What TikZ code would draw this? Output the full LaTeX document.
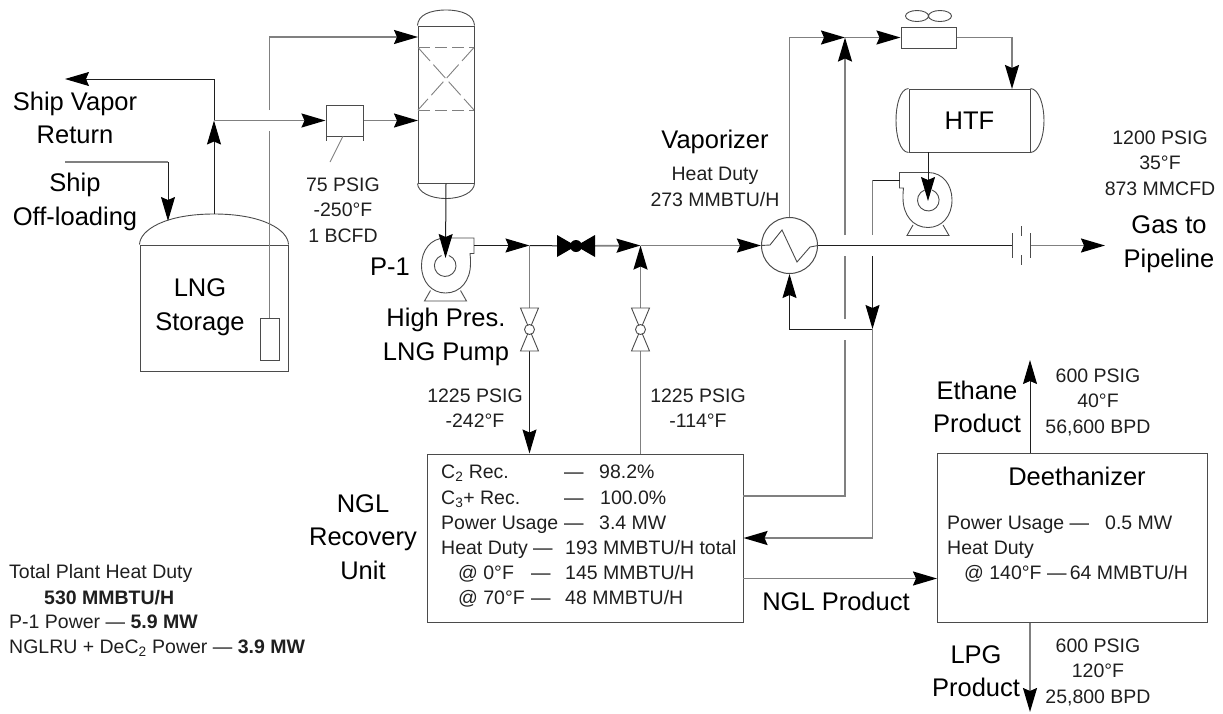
\documentclass[tikz,border=0pt]{standalone}
\usepackage{fontspec}
\setmainfont{Liberation Sans}
\usetikzlibrary{arrows.meta,calc,positioning}
\definecolor{pipegray}{gray}{0.5}
\definecolor{pipedark}{gray}{0.12}
\definecolor{txtgray}{gray}{0.12}
\tikzset{
  pipe/.style={line width=1.7pt,draw=pipegray},
  darkpipe/.style={line width=1pt,draw=pipedark},
  flow/.style={-{Stealth[length=24pt,width=14pt,inset=3pt,color=black]}},
  equip/.style={draw=pipedark!80!white,line width=0.9pt},
  box/.style={draw=pipedark!80!white,line width=1pt,inner sep=0pt,rectangle},
  bigtxt/.style={text=black,font=\fontsize{25.5}{33.5}\selectfont,align=center,inner sep=0pt},
  smalltxt/.style={text=txtgray,font=\fontsize{19.5}{25.5}\selectfont,align=center,inner sep=0pt},
  rowtxt/.style={smalltxt,anchor=base west},
  pics/cpump/.style={code={
    \draw[equip] (28.5,-27.5) -- (0,-27.5) .. controls (-15,-27.5) and (-24,-15) .. (-24,0)
      .. controls (-24,16) and (-14,27.5) .. (0,27.5) .. controls (15,27.5) and (25,15) .. (25,-2)
      .. controls (25,-6) and (25,-9) .. (24.5,-12) -- (28.5,-12) -- cycle;
    \draw[equip] (-4,-10) arc[start angle=110,end angle=430,radius=10.8pt];
    \draw[equip] (-15,25) -- (-21,35.5) -- (21,35.5) -- (15,25);
  }},
  pics/vvalve/.style={code={
    \draw[equip,fill=white] (-9,-21.5) -- (9,-21.5) -- (-9,21.5) -- (9,21.5) -- cycle;
    \draw[equip,fill=white] (0,0) circle (5pt);
  }},
  pics/hvalve/.style={code={
    \fill[black] (-19,-11) -- (19,11) -- (19,-11) -- (-19,11) -- cycle;
    \fill[black] (0,0) circle (6pt);
  }}
}
\begin{document}
\begin{tikzpicture}[x=1pt,y=-1pt]
    \useasboundingbox (0,0) rectangle (1223,713);

    \node[box,minimum width=148pt,minimum height=126pt] (tank) at (214,308) {};
    \node[box,minimum width=19pt,minimum height=42pt] (rundown) at (269.5,339) {};
    \node[box,minimum width=56pt,minimum height=157pt] (column) at (446,104.5) {};
    \node[box,minimum width=37pt,minimum height=31pt] (comp) at (344.5,120.5) {};
    \node[box,minimum width=55pt,minimum height=21pt] (cooler) at (928.5,37.5) {};
    \node[box,minimum width=121pt,minimum height=63pt] (htf) at (969.5,120.5) {};
    \node[box,circle,minimum size=56pt] (vap) at (789.5,245.5) {};
    \node[box,minimum width=316pt,minimum height=168pt] (nglu) at (585,538) {};
    \node[box,minimum width=270pt,minimum height=169pt] (dec) at (1072,537.5) {};

    \coordinate (domeL) at (tank.north west);
    \coordinate (domeR) at (tank.north east);
    \coordinate (domeTop) at (214,214);
    \coordinate (shipIn) at (168,221);
    \coordinate (shipStart) at (65,162);
    \coordinate (tee1) at (214,120.5);
    \coordinate (vapRet) at (65,79);
    \coordinate (colIn1) at (418,37);
    \coordinate (colIn2) at (418,120.5);
    \coordinate (gap1a) at (269.5,131);
    \coordinate (gap1b) at (269.5,110);
    \coordinate (pump1) at (445.5,265.5);
    \coordinate (pump2) at (928,200);
    \coordinate (pump1out) at (474,245.5);
    \coordinate (tee2) at (529.5,245.5);
    \coordinate (tee3) at (640.5,245.5);
    \coordinate (val1) at (529.5,329.5);
    \coordinate (val1b) at (529.5,351);
    \coordinate (val2) at (640.5,329.5);
    \coordinate (val2t) at (640.5,308);
    \coordinate (val2b) at (640.5,351);
    \coordinate (val3) at (576,246);
    \coordinate (tee4) at (845,37.5);
    \coordinate (plate1) at (1012,245.5);
    \coordinate (plate2) at (1030,245.5);
    \coordinate (gasEnd) at (1105,245.5);
    \coordinate (tee5) at (872.5,329);
    \coordinate (nglOut) at (743,578.5);
    \coordinate (decIn) at (937,578.5);

    \draw[equip] (domeL) .. controls (140,230) and (165,214) .. (domeTop) .. controls (263,214) and (288,230) .. (domeR);
    \draw[equip] (column.north west) .. controls (418,15) and (430,10) .. (446,10) .. controls (462,10) and (474,15) .. (column.north east);
    \draw[equip] (column.south west) .. controls (418,192) and (430,198.5) .. (446,198.5) .. controls (462,198.5) and (474,192) .. (column.south east);
    \draw[equip,pipegray,dash pattern=on 12pt off 5pt] (418,47.5) -- (474,47.5);
    \draw[equip,pipegray,dash pattern=on 12pt off 5pt] (418,110) -- (474,110);
    \draw[equip,pipegray,dash pattern=on 18pt off 5pt] (418,47.5) -- (474,110);
    \draw[equip,pipegray,dash pattern=on 18pt off 5pt] (474,47.5) -- (418,110);
    \draw[equip] (326,136) -- (326,141);
    \draw[equip] (363,136) -- (363,141);
    \draw[equip,pipegray] (343,136) -- (330,162);

    \draw[equip] (htf.north west) .. controls (900,89) and (896,105) .. (896,120.5) .. controls (896,136) and (900,152) .. (htf.south west);
    \draw[equip] (htf.north east) .. controls (1039,89) and (1044,105) .. (1044,120.5) .. controls (1044,136) and (1039,152) .. (htf.south east);
    \draw[equip] (940,16) ellipse[x radius=11.5pt,y radius=5.5pt] ++(-23,0) ellipse[x radius=11.5pt,y radius=5.5pt];
    \draw[equip] (vap.west) -- (770,245) -- (782,230) -- (797,262) -- (810,247) -- (vap.east);

    \draw[pipe] (shipStart) -- (168,162);
    \draw[darkpipe,flow] (168,162) -- (shipIn);
    \draw[darkpipe,flow] (domeTop) -- (tee1);
    \draw[darkpipe,flow] (tee1) -- (214,79) -- (vapRet);
    \draw[pipe,flow] (tee1) -- (comp.west);
    \draw[pipe,flow] (comp.east) -- (colIn2);
    \draw[pipe] (rundown.north) -- (gap1a);
    \draw[pipe,flow] (gap1b) -- (269.5,37) -- (colIn1);

    \pic at (pump1) {cpump};
    \pic[xscale=-1] at (pump2) {cpump};
    \draw[darkpipe,flow] (column.south) -- (445.5,258);

    \draw[darkpipe,flow] (pump1out) -- (tee2);
    \draw[darkpipe] (tee2) -- (val3);
    \draw[pipe,flow] (val3) -- (tee3);
    \draw[pipe,flow] (tee3) -- (vap.west);
    \draw[pipe] (tee2) -- (val1);
    \draw[darkpipe,flow] (val1b) -- (nglu.north -| val1b);
    \draw[pipe] (nglu.north -| val2b) -- (val2b);
    \draw[pipe] (val2) -- (val2t);
    \draw[pipe,flow] (val2t) -- (tee3);
    \pic at (val1) {vvalve};
    \pic at (val2) {vvalve};
    \pic at (val3) {hvalve};

    \draw[pipe,flow] (vap.north) -- (789.5,37.5) -- (tee4);
    \draw[pipe,flow] (tee4) -- (cooler.west);
    \draw[pipe] (743,496) -- (845,496) -- (845,340);
    \draw[pipe] (845,319) -- (845,256);
    \draw[pipe,flow] (845,235) -- (tee4);
    \draw[pipe,flow] (cooler.east) -- (1012,37.5) -- (1012,89);
    \draw[darkpipe,flow] (928,152) -- (928,201);
    \draw[darkpipe] (900,180) -- (872.5,180);
    \draw[pipe] (872.5,180) -- (872.5,235);
    \draw[darkpipe,flow] (872.5,256) -- (tee5);
    \draw[darkpipe,flow] (tee5) -- (789.5,329) -- (vap.south);
    \draw[pipe,flow] (tee5) -- (872.5,538) -- (nglu.east);
    \draw[darkpipe] (vap.east) -- (plate1);
    \draw[pipe,flow] (plate2) -- (gasEnd);
    \draw[equip] (1012,233) -- (1012,258);
    \draw[equip] (1030,233) -- (1030,258);
    \draw[equip] (1021,226) -- (1021,236);
    \draw[equip] (1021,255) -- (1021,265);
    \draw[pipe,flow] (nglOut) -- (decIn);
    \draw[darkpipe,flow] (dec.north -| plate2) -- (1030,360);
    \draw[pipe,flow] (dec.south -| plate2) -- (1030,712);

    \node[bigtxt] (shipvap) at (75,118) {Ship Vapor\\Return};
    \node[bigtxt] (shipoff) at (75,202) {Ship\\Off-loading};
    \node[bigtxt] (storage) at (200,307) {LNG\\Storage};
    \node[bigtxt] (p1) at (390,267) {P-1};
    \node[bigtxt] (hplng) at (446,337) {High Pres.\\LNG Pump};
    \node[bigtxt] (vaplbl) at (715,142) {Vaporizer};
    \node[bigtxt] (htflbl) at (htf) {HTF};
    \node[bigtxt] (gaspipe) at (1169,244) {Gas to\\Pipeline};
    \node[bigtxt] (nglrec) at (363,537) {NGL\\Recovery\\Unit};
    \node[bigtxt] (nglprod) at (836,601) {NGL Product};
    \node[bigtxt] (ethprod) at (977,407) {Ethane\\Product};
    \node[bigtxt] (lpgprod) at (976,671) {LPG\\Product};
    \node[bigtxt] (declbl) at (1077,476) {Deethanizer};

    \node[smalltxt] (cond1) at (343,210) {75 PSIG\\-250°F\\1 BCFD};
    \node[smalltxt] (duty) at (715,187) {Heat Duty\\273 MMBTU/H};
    \node[smalltxt] (cond2) at (1160,163) {1200 PSIG\\35°F\\873 MMCFD};
    \node[smalltxt] (cond3) at (475,408) {1225 PSIG\\-242°F};
    \node[smalltxt] (cond4) at (698,408) {1225 PSIG\\-114°F};
    \node[smalltxt] (cond5) at (1098,402) {600 PSIG\\40°F\\56,600 BPD};
    \node[smalltxt] (cond6) at (1098,672) {600 PSIG\\120°F\\25,800 BPD};

    \node[rowtxt] (r1a) at (441,478) {C\textsubscript{2} Rec.};
    \node[rowtxt] (r1b) at (564,478) {—};
    \node[rowtxt] (r1c) at (599,478) {98.2\%};
    \node[rowtxt] (r2a) at (441,504) {C\textsubscript{3}+ Rec.};
    \node[rowtxt] (r2b) at (564,504) {—};
    \node[rowtxt] (r2c) at (600,504) {100.0\%};
    \node[rowtxt] (r3a) at (441,529) {Power Usage};
    \node[rowtxt] (r3b) at (564,529) {—};
    \node[rowtxt] (r3c) at (599,529) {3.4 MW};
    \node[rowtxt] (r4a) at (441,554) {Heat Duty};
    \node[rowtxt] (r4b) at (533,554) {—};
    \node[rowtxt] (r4c) at (565,554) {193 MMBTU/H total};
    \node[rowtxt] (r5a) at (458,579) {@ 0°F};
    \node[rowtxt] (r5b) at (531,579) {—};
    \node[rowtxt] (r5c) at (565,579) {145 MMBTU/H};
    \node[rowtxt] (r6a) at (458,604) {@ 70°F};
    \node[rowtxt] (r6b) at (531,604) {—};
    \node[rowtxt] (r6c) at (565,604) {48 MMBTU/H};

    \node[rowtxt] (d1a) at (947,529) {Power Usage —};
    \node[rowtxt] (d1b) at (1105,529) {0.5 MW};
    \node[rowtxt] (d2a) at (947,554) {Heat Duty};
    \node[rowtxt] (d3a) at (964,579) {@ 140°F —\,64 MMBTU/H};

    \node[rowtxt] (tot1) at (9,578) {Total Plant Heat Duty};
    \node[rowtxt] (tot2) at (44,604) {\textbf{530 MMBTU/H}};
    \node[rowtxt] (tot3) at (9,628) {P-1 Power — \textbf{5.9 MW}};
    \node[rowtxt] (tot4) at (9,653) {NGLRU + DeC\textsubscript{2} Power — \textbf{3.9 MW}};
\end{tikzpicture}
\end{document}
